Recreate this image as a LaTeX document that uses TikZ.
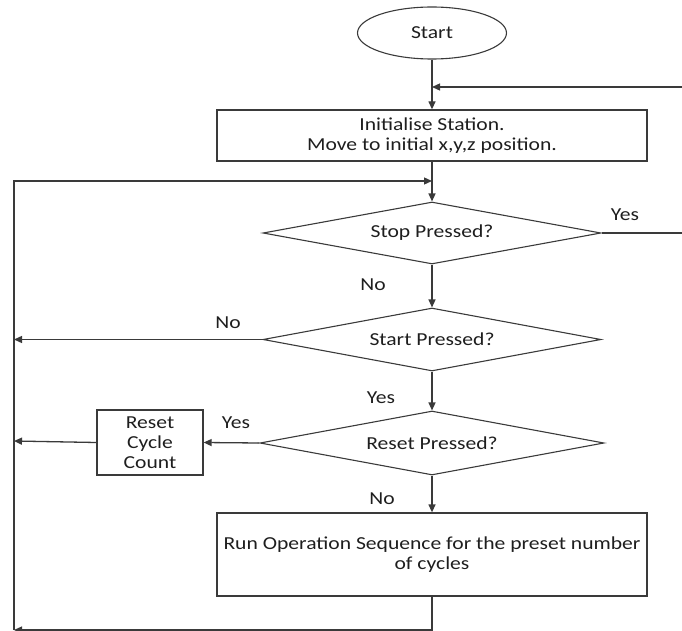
\documentclass[tikz,border=0pt]{standalone}
\usepackage{fontspec}
\setmainfont{Carlito}[FakeStretch=1.18]
\usetikzlibrary{shapes.geometric,arrows.meta}
\definecolor{ln}{HTML}{3A3A3A}
\definecolor{tx}{HTML}{1E1E1E}
\begin{document}
\begin{tikzpicture}[x=1pt,y=-1pt,
  every node/.style={font=\fontsize{18.3}{20}\selectfont,text=tx},
  conn/.style={draw=ln,line width=1.3pt},
  arr/.style={conn,-{Triangle[length=8pt,width=7pt]}},
  startnode/.style={ellipse,draw=ln,line width=1.1pt,minimum width=149pt,minimum height=52pt,inner sep=0pt},
  procbox/.style={rectangle,draw=ln,line width=1.3pt,inner sep=0pt,align=center},
  decision/.style={diamond,draw=ln,line width=1.1pt,shape aspect=6,inner sep=0pt},
  lbl/.style={inner sep=0pt}]
\useasboundingbox (0,0) rectangle (682,631);
\node[startnode] (start) at (432,33) {Start};
\node[procbox,minimum width=430pt,minimum height=51pt] (init) at (432,135.5) {Initialise Station.\\Move to initial x,y,z position.};
\node[decision,minimum width=338pt,minimum height=62pt] (d1) at (432,233) {Stop Pressed?};
\node[decision,minimum width=338pt,minimum height=63pt] (d2) at (432,339.5) {Start Pressed?};
\node[decision,minimum width=344pt,minimum height=64pt] (d3) at (432,443) {Reset Pressed?};
\node[procbox,minimum width=106pt,minimum height=65pt] (reset) at (150,442.5) {Reset\\Cycle\\Count};
\node[procbox,minimum width=430pt,minimum height=83pt] (run) at (432,554.5) {Run Operation Sequence for the preset number\\of cycles};

\coordinate (rin) at (682,87);
\coordinate (j1) at (432,87);
\coordinate (j2) at (432,181);
\coordinate (lb) at (14,630);
\coordinate (lstart) at (14,339.5);
\coordinate (lreset) at (14,441);
\coordinate (stopout) at (682,233);

\draw[arr] (start.south) -- (init.north);
\draw[arr] (rin) -- (j1);
\draw[arr] (init.south) -- (d1.north);
\draw[arr] (run.south) |- (lb);
\draw[arr] (lb) |- (j2);
\draw[conn] (d1.east) -- (stopout);
\draw[arr] (d1.south) -- (d2.north);
\draw[arr] (d2.west) -- (lstart);
\draw[arr] (d2.south) -- (d3.north);
\draw[arr] (d3.west) -- (reset.east);
\draw[arr] (reset.west) -- (lreset);
\draw[arr] (d3.south) -- (run.north);

\node[lbl] (yes1) at (625,215) {Yes};
\node[lbl] (no1) at (373,285) {No};
\node[lbl] (no2) at (228,323) {No};
\node[lbl] (yes2) at (381,398) {Yes};
\node[lbl] (yes3) at (236,423) {Yes};
\node[lbl] (no3) at (382,499) {No};
\end{tikzpicture}
\end{document}
